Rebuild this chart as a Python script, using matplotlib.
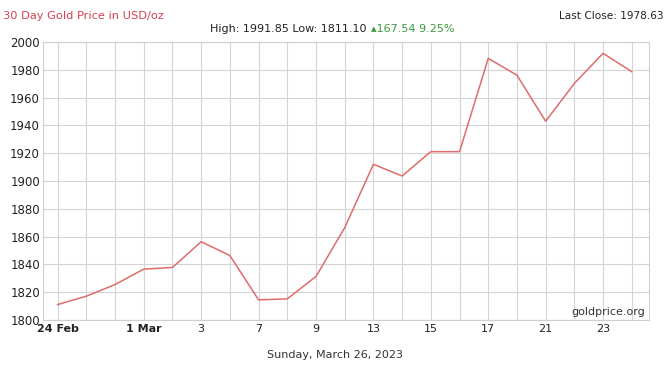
"""30 day gold price chart (USD/oz), goldprice.org style."""
import matplotlib
matplotlib.use("Agg")
import matplotlib.pyplot as plt

# trading days shown on the x axis
days = ["24 Feb", "27", "28", "1 Mar", "2", "3", "6", "7", "8", "9", "10",
        "13", "14", "15", "16", "17", "20", "21", "22", "23", "24"]
# closing prices
prices = [1811.1, 1817.1, 1825.5, 1836.6, 1837.8, 1856.3, 1846.4, 1814.5,
          1815.2, 1831.3, 1866.4, 1912.0, 1903.6, 1921.1, 1921.1, 1988.2,
          1976.1, 1943.0, 1970.2, 1991.85, 1978.63]
# days that carry a label under the axis
labelled_days = ["24 Feb", "1 Mar", "3", "7", "9", "13", "15", "17", "21", "23"]
month_labels = ["24 Feb", "1 Mar"]
y_ticks = [1800, 1820, 1840, 1860, 1880, 1900, 1920, 1940, 1960, 1980, 2000]

title = "30 Day Gold Price in USD/oz"
last_close = "Last Close: 1978.63"
high_low = "High: 1991.85 Low: 1811.10"
change = "\u25b4167.54 9.25%"
footer = "Sunday, March 26, 2023"
source = "goldprice.org"

W, H = 670, 366
fig = plt.figure(figsize=(W / 100, H / 100), dpi=100)
fig.patch.set_facecolor("white")

left, right, top, bottom = 42.7, 649, 42, 320
ax = fig.add_axes([left / W, 1 - bottom / H, (right - left) / W, (bottom - top) / H])

x = list(range(len(days)))
ax.plot(x, prices, color="#e06b6b", linewidth=1.1, zorder=3)

ax.set_xlim(-0.52, 20.6)
ax.set_ylim(1800, 2000)
ax.set_yticks(y_ticks)
ax.set_xticks(x)
ax.set_xticklabels([d if d in labelled_days else "" for d in days])
for lbl in ax.get_xticklabels():
    if lbl.get_text() in month_labels:
        lbl.set_fontweight("bold")
ax.tick_params(axis="both", length=0, colors="#222222")
ax.tick_params(axis="x", labelsize=8, pad=3)
ax.tick_params(axis="y", labelsize=8.5, pad=2)
ax.grid(True, color="#d4d4d4", linewidth=0.8, zorder=0)
for s in ax.spines.values():
    s.set_color("#cfcfcf")
    s.set_linewidth(0.8)

def px(xp, yp):
    return xp / W, 1 - yp / H

fig.text(*px(3, 16), title, color="#d8404f", fontsize=8.2, va="center", ha="left")
fig.text(*px(664, 16), last_close, color="#222222", fontsize=7.6, va="center", ha="right")
fig.text(*px(366, 29), high_low, color="#222222", fontsize=8, va="center", ha="right")
fig.text(*px(371, 29), change, color="#3a9a3a", fontsize=8, va="center", ha="left")
fig.text(*px(335, 355), footer, color="#333333", fontsize=8, va="center", ha="center")
fig.text(*px(645, 312), source, color="#333333", fontsize=8, va="center", ha="right")

fig.savefig("out.png", dpi=100)
